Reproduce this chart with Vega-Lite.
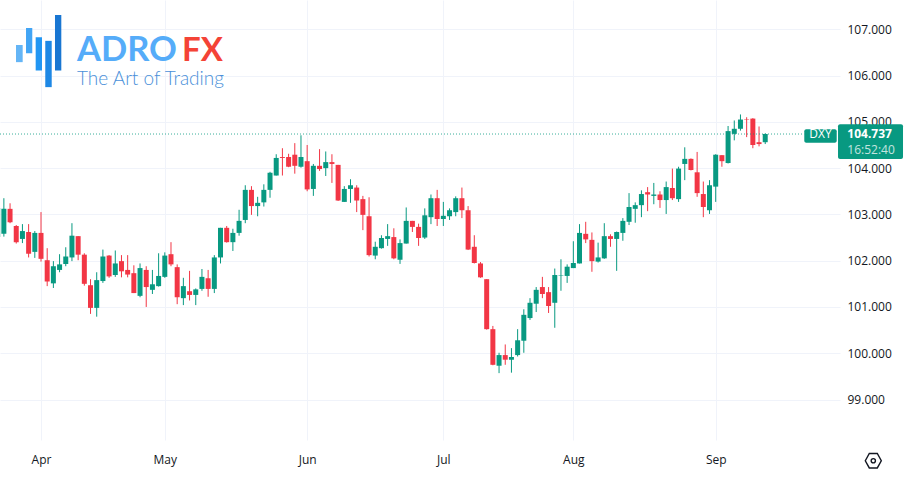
{"$schema":"https://vega.github.io/schema/vega-lite/v6.json","width":840,"height":440,"autosize":"none","padding":{"left":0,"top":0,"right":64,"bottom":40},"background":"#ffffff","config":{"view":{"stroke":null}},
"datasets":{"candles":[
{"i":-7,"o":102.51,"h":103.25,"l":102.47,"c":103.14},{"i":-6,"o":102.58,"h":103.35,"l":102.52,"c":103.12},{"i":-5,"o":103.12,"h":103.24,"l":102.81,"c":102.83},{"i":-4,"o":102.75,"h":102.77,"l":102.37,"c":102.40},{"i":-3,"o":102.47,"h":102.79,"l":102.38,"c":102.64},{"i":-2,"o":102.62,"h":102.79,"l":102.07,"c":102.15},{"i":-1,"o":102.19,"h":102.64,"l":102.06,"c":102.60},{"i":0,"o":102.60,"h":103.05,"l":101.98,"c":102.04},{"i":1,"o":102.01,"h":102.27,"l":101.45,"c":101.55},{"i":2,"o":101.51,"h":101.99,"l":101.41,"c":101.88},{"i":3,"o":101.80,"h":102.14,"l":101.75,"c":101.92},{"i":4,"o":101.93,"h":102.29,"l":101.88,"c":102.09},{"i":5,"o":102.07,"h":102.81,"l":101.99,"c":102.54},{"i":6,"o":102.53,"h":102.53,"l":102.01,"c":102.13},{"i":7,"o":102.13,"h":102.16,"l":101.46,"c":101.50},{"i":8,"o":101.47,"h":101.60,"l":100.85,"c":100.98},{"i":9,"o":100.98,"h":101.75,"l":100.79,"c":101.58},{"i":10,"o":101.56,"h":102.24,"l":101.52,"c":102.09},{"i":11,"o":102.11,"h":102.12,"l":101.63,"c":101.66},{"i":12,"o":101.69,"h":102.22,"l":101.65,"c":101.94},{"i":13,"o":101.99,"h":102.12,"l":101.64,"c":101.77},{"i":14,"o":101.80,"h":102.12,"l":101.64,"c":101.70},{"i":15,"o":101.73,"h":101.90,"l":101.30,"c":101.30},{"i":16,"o":101.24,"h":101.94,"l":101.21,"c":101.84},{"i":17,"o":101.80,"h":101.88,"l":101.00,"c":101.43},{"i":18,"o":101.37,"h":101.80,"l":101.28,"c":101.49},{"i":19,"o":101.45,"h":102.16,"l":101.44,"c":101.67},{"i":20,"o":101.65,"h":102.18,"l":101.63,"c":102.11},{"i":21,"o":102.14,"h":102.40,"l":101.88,"c":101.92},{"i":22,"o":101.86,"h":101.92,"l":101.06,"c":101.21},{"i":23,"o":101.19,"h":101.63,"l":101.04,"c":101.45},{"i":24,"o":101.34,"h":101.78,"l":101.14,"c":101.26},{"i":25,"o":101.26,"h":101.40,"l":101.04,"c":101.38},{"i":26,"o":101.39,"h":101.82,"l":101.35,"c":101.65},{"i":27,"o":101.62,"h":101.80,"l":101.22,"c":101.39},{"i":28,"o":101.39,"h":102.12,"l":101.30,"c":102.07},{"i":29,"o":102.07,"h":102.71,"l":101.94,"c":102.71},{"i":30,"o":102.71,"h":102.75,"l":102.39,"c":102.40},{"i":31,"o":102.40,"h":102.69,"l":102.21,"c":102.60},{"i":32,"o":102.60,"h":103.10,"l":102.54,"c":102.86},{"i":33,"o":102.88,"h":103.63,"l":102.81,"c":103.53},{"i":34,"o":103.53,"h":103.61,"l":102.99,"c":103.18},{"i":35,"o":103.18,"h":103.38,"l":102.96,"c":103.25},{"i":36,"o":103.26,"h":103.65,"l":103.17,"c":103.53},{"i":37,"o":103.53,"h":103.92,"l":103.36,"c":103.90},{"i":38,"o":103.84,"h":104.30,"l":103.84,"c":104.22},{"i":39,"o":104.24,"h":104.43,"l":103.84,"c":104.22},{"i":40,"o":104.24,"h":104.31,"l":104.02,"c":104.03},{"i":41,"o":104.29,"h":104.54,"l":103.88,"c":104.05},{"i":42,"o":104.03,"h":104.71,"l":104.01,"c":104.24},{"i":43,"o":104.15,"h":104.50,"l":103.50,"c":103.54},{"i":44,"o":103.55,"h":104.09,"l":103.40,"c":104.05},{"i":45,"o":104.05,"h":104.41,"l":103.94,"c":103.98},{"i":46,"o":104.00,"h":104.36,"l":103.83,"c":104.13},{"i":47,"o":104.13,"h":104.30,"l":103.68,"c":104.09},{"i":48,"o":104.07,"h":104.07,"l":103.29,"c":103.30},{"i":49,"o":103.27,"h":103.61,"l":103.27,"c":103.55},{"i":50,"o":103.55,"h":103.76,"l":103.25,"c":103.63},{"i":51,"o":103.58,"h":103.63,"l":103.05,"c":103.30},{"i":52,"o":103.33,"h":103.40,"l":102.66,"c":102.99},{"i":53,"o":102.96,"h":103.37,"l":102.09,"c":102.12},{"i":54,"o":102.11,"h":102.41,"l":102.03,"c":102.30},{"i":55,"o":102.27,"h":102.55,"l":102.26,"c":102.49},{"i":56,"o":102.47,"h":102.79,"l":102.32,"c":102.53},{"i":57,"o":102.51,"h":102.70,"l":102.03,"c":102.05},{"i":58,"o":102.02,"h":102.46,"l":101.93,"c":102.38},{"i":59,"o":102.37,"h":103.15,"l":102.37,"c":102.86},{"i":60,"o":102.86,"h":102.86,"l":102.62,"c":102.73},{"i":61,"o":102.73,"h":102.80,"l":102.32,"c":102.49},{"i":62,"o":102.50,"h":103.13,"l":102.47,"c":102.98},{"i":63,"o":102.94,"h":103.43,"l":102.79,"c":103.35},{"i":64,"o":103.35,"h":103.53,"l":102.75,"c":102.90},{"i":65,"o":102.90,"h":103.27,"l":102.75,"c":102.97},{"i":66,"o":102.96,"h":103.13,"l":102.88,"c":103.09},{"i":67,"o":103.05,"h":103.39,"l":102.96,"c":103.35},{"i":68,"o":103.35,"h":103.58,"l":102.92,"c":103.09},{"i":69,"o":103.09,"h":103.18,"l":102.23,"c":102.24},{"i":70,"o":102.30,"h":102.55,"l":101.94,"c":101.95},{"i":71,"o":101.94,"h":101.97,"l":101.63,"c":101.64},{"i":72,"o":101.60,"h":101.60,"l":100.51,"c":100.52},{"i":73,"o":100.52,"h":100.59,"l":99.74,"c":99.75},{"i":74,"o":99.73,"h":100.01,"l":99.57,"c":99.96},{"i":75,"o":99.96,"h":100.19,"l":99.75,"c":99.86},{"i":76,"o":99.86,"h":100.11,"l":99.58,"c":99.92},{"i":77,"o":99.96,"h":100.52,"l":99.93,"c":100.28},{"i":78,"o":100.27,"h":100.95,"l":100.01,"c":100.83},{"i":79,"o":100.76,"h":101.19,"l":100.72,"c":101.09},{"i":80,"o":101.07,"h":101.43,"l":100.89,"c":101.37},{"i":81,"o":101.43,"h":101.65,"l":101.19,"c":101.28},{"i":82,"o":101.32,"h":101.43,"l":100.87,"c":101.02},{"i":83,"o":101.09,"h":101.83,"l":100.55,"c":101.69},{"i":84,"o":101.68,"h":102.03,"l":101.35,"c":101.69},{"i":85,"o":101.67,"h":101.92,"l":101.52,"c":101.87},{"i":86,"o":101.84,"h":102.42,"l":101.84,"c":101.95},{"i":87,"o":101.94,"h":102.79,"l":101.94,"c":102.60},{"i":88,"o":102.58,"h":102.84,"l":102.38,"c":102.46},{"i":89,"o":102.45,"h":102.61,"l":101.76,"c":101.99},{"i":90,"o":101.98,"h":102.39,"l":101.96,"c":102.07},{"i":91,"o":102.05,"h":102.81,"l":102.04,"c":102.53},{"i":92,"o":102.53,"h":102.57,"l":102.30,"c":102.47},{"i":93,"o":102.47,"h":102.63,"l":101.78,"c":102.62},{"i":94,"o":102.60,"h":102.92,"l":102.43,"c":102.86},{"i":95,"o":102.84,"h":103.46,"l":102.77,"c":103.16},{"i":96,"o":103.12,"h":103.26,"l":102.82,"c":103.20},{"i":97,"o":103.20,"h":103.52,"l":102.94,"c":103.44},{"i":98,"o":103.48,"h":103.59,"l":103.07,"c":103.43},{"i":99,"o":103.40,"h":103.68,"l":103.22,"c":103.43},{"i":100,"o":103.43,"h":103.50,"l":103.14,"c":103.31},{"i":101,"o":103.31,"h":103.71,"l":103.01,"c":103.59},{"i":102,"o":103.57,"h":103.99,"l":103.31,"c":103.35},{"i":103,"o":103.33,"h":104.03,"l":103.27,"c":103.99},{"i":104,"o":104.09,"h":104.45,"l":103.74,"c":104.20},{"i":105,"o":104.20,"h":104.21,"l":103.95,"c":103.96},{"i":106,"o":103.91,"h":104.35,"l":103.38,"c":103.46},{"i":107,"o":103.44,"h":103.71,"l":102.94,"c":103.16},{"i":108,"o":103.09,"h":103.74,"l":103.01,"c":103.63},{"i":109,"o":103.60,"h":104.30,"l":103.27,"c":104.29},{"i":110,"o":104.28,"h":104.28,"l":104.03,"c":104.15},{"i":111,"o":104.11,"h":104.91,"l":104.10,"c":104.80},{"i":112,"o":104.74,"h":105.03,"l":104.60,"c":104.85},{"i":113,"o":104.85,"h":105.16,"l":104.81,"c":105.05},{"i":114,"o":105.06,"h":105.10,"l":104.67,"c":105.05},{"i":115,"o":105.07,"h":105.08,"l":104.43,"c":104.50},{"i":116,"o":104.56,"h":104.90,"l":104.47,"c":104.52},{"i":117,"o":104.56,"h":104.75,"l":104.52,"c":104.737}
]},
"encoding":{"x":{"field":"i","type":"quantitative","title":null,"scale":{"domain":[-6.624,129.08],"nice":false,"zero":false,"padding":0},"axis":{"values":[0,20,43,65,86,109],"labelExpr":"['Apr','May','Jun','Jul','Aug','Sep'][indexof([0,20,43,65,86,109],datum.value)]","grid":true,"gridColor":"#F0F3FA","domain":false,"ticks":false,"labelPadding":14,"labelFont":"Open Sans","labelFontSize":12,"labelColor":"#131722","labelOverlap":false,"labelFlush":false,"title":null}}},
"layer":[
{"data":{"name":"candles"},"transform":[{"calculate":"datum.c>=datum.o?'up':'down'","as":"k"}],"mark":{"type":"rule","strokeWidth":1,"clip":true},"encoding":{"y":{"field":"l","type":"quantitative","title":null,"scale":{"domain":[98.125,107.633],"nice":false,"zero":false},"axis":{"orient":"right","values":[99,100,101,102,103,104,105,106,107],"format":".3f","grid":true,"gridColor":"#F0F3FA","domain":false,"ticks":false,"labelPadding":7,"labelFont":"Open Sans","labelFontSize":12,"labelColor":"#131722","labelOverlap":false,"labelFlush":false,"title":null}},"y2":{"field":"h"},"color":{"field":"k","type":"nominal","legend":null,"scale":{"domain":["up","down","b1","b2","b3","b4","b5"],"range":["#089981","#F23645","#64B5F6","#42A5F5","#2196F3","#1E88E5","#1976D2"]}}}},
{"data":{"name":"candles"},"transform":[{"calculate":"datum.c>=datum.o?'up':'down'","as":"k"}],"mark":{"type":"bar","size":5,"clip":true},"encoding":{"y":{"field":"o","type":"quantitative","title":null},"y2":{"field":"c"},"color":{"field":"k","type":"nominal","legend":null}}},
{"data":{"values":[{"i":-6.624,"i2":123.3,"v":104.737}]},"mark":{"type":"rule","color":"#089981","strokeDash":[1,2],"strokeWidth":1,"opacity":0.8},"encoding":{"x2":{"field":"i2"},"y":{"field":"v","type":"quantitative","title":null}}},
{"data":{"values":[{"i":-4.04,"i2":-2.96,"v":106.66,"v2":106.29,"k":"b1"},{"i":-2.42,"i2":-1.41,"v":107.03,"v2":106.48,"k":"b2"},{"i":-0.86,"i2":0.16,"v":106.83,"v2":106.11,"k":"b3"},{"i":0.69,"i2":1.73,"v":106.75,"v2":105.75,"k":"b4"},{"i":2.26,"i2":3.28,"v":107.31,"v2":106.11,"k":"b5"}]},"mark":{"type":"rect"},"encoding":{"x2":{"field":"i2"},"y":{"field":"v","type":"quantitative","title":null},"y2":{"field":"v2"},"color":{"field":"k","type":"nominal","legend":null}}},
{"data":{"values":[{"i":5.82,"v":106.315,"label":"ADRO"}]},"mark":{"type":"text","align":"left","baseline":"alphabetic","font":"Lato","fontWeight":"bold","fontSize":34.5,"color":"#55ACF9"},"encoding":{"y":{"field":"v","type":"quantitative","title":null},"text":{"field":"label"}}},
{"data":{"values":[{"i":22.78,"v":106.315,"label":"FX"}]},"mark":{"type":"text","align":"left","baseline":"alphabetic","font":"Lato","fontWeight":"bold","fontSize":33,"color":"#F44336"},"encoding":{"y":{"field":"v","type":"quantitative","title":null},"text":{"field":"label"}}},
{"data":{"values":[{"i":5.82,"v":105.796,"label":"The Art of Trading"}]},"mark":{"type":"text","align":"left","baseline":"alphabetic","font":"Lato","fontWeight":300,"fontSize":19,"color":"#4A90D9"},"encoding":{"y":{"field":"v","type":"quantitative","title":null},"text":{"field":"label"}}},
{"data":{"values":[{"i":123.31,"i2":128.55,"v":104.84,"v2":104.55},{"i":128.76,"i2":139.26,"v":104.947,"v2":104.197}]},"mark":{"type":"rect","color":"#089981","cornerRadius":2},"encoding":{"x2":{"field":"i2"},"y":{"field":"v","type":"quantitative","title":null},"y2":{"field":"v2"}}},
{"data":{"values":[{"i":125.93,"v":104.727,"label":"DXY"}]},"mark":{"type":"text","align":"center","baseline":"middle","font":"Open Sans","fontSize":12,"color":"#ffffff"},"encoding":{"y":{"field":"v","type":"quantitative","title":null},"text":{"field":"label"}}},
{"data":{"values":[{"i":130.27,"v":104.737,"label":"104.737"}]},"mark":{"type":"text","align":"left","baseline":"middle","font":"Open Sans","fontSize":12,"fontWeight":"bold","color":"#ffffff"},"encoding":{"y":{"field":"v","type":"quantitative","title":null},"text":{"field":"label"}}},
{"data":{"values":[{"i":130.27,"v":104.39,"label":"16:52:40"}]},"mark":{"type":"text","align":"left","baseline":"middle","font":"Open Sans","fontSize":12,"color":"#ffffff","opacity":0.75},"encoding":{"y":{"field":"v","type":"quantitative","title":null},"text":{"field":"label"}}},
{"data":{"values":[{"i":134.46,"v":97.677}]},"mark":{"type":"point","shape":"M-1 0L-0.5 -0.9L0.5 -0.9L1 0L0.5 0.9L-0.5 0.9Z","size":256,"filled":false,"stroke":"#131722","strokeWidth":1.4,"opacity":1},"encoding":{"y":{"field":"v","type":"quantitative","title":null}}},
{"data":{"values":[{"i":134.46,"v":97.677}]},"mark":{"type":"point","shape":"circle","size":18,"filled":false,"stroke":"#131722","strokeWidth":1.4,"opacity":1},"encoding":{"y":{"field":"v","type":"quantitative","title":null}}}
]}
